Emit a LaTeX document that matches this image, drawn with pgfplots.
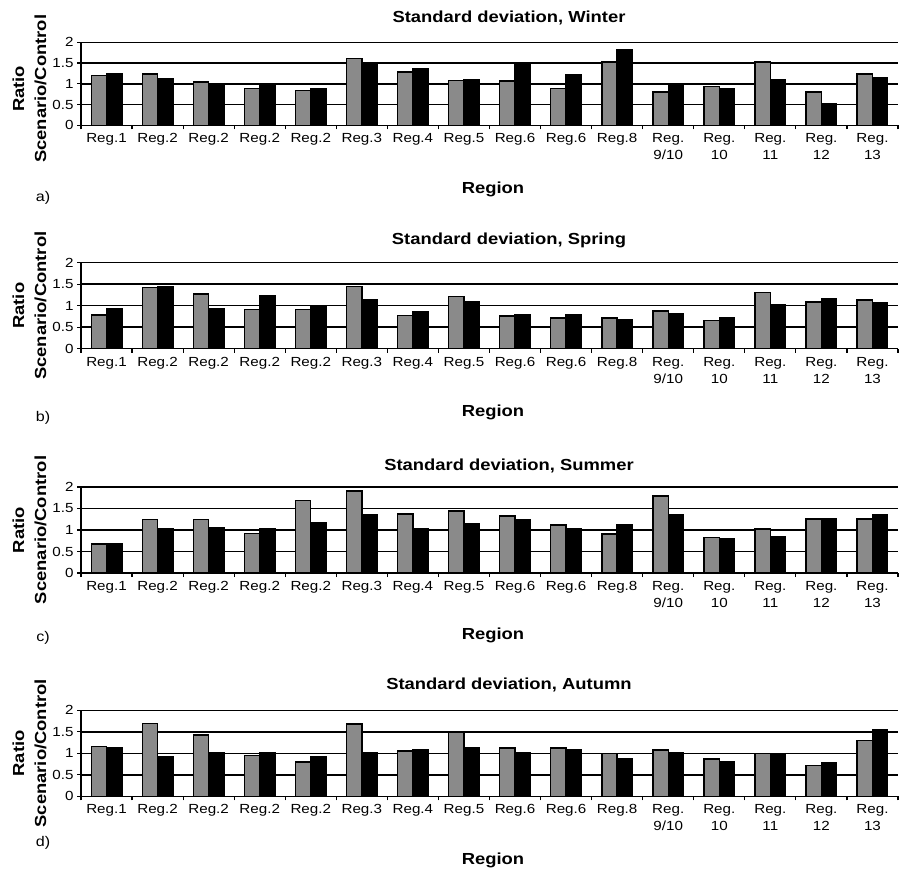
\documentclass[border=0pt]{standalone}
\usepackage{pgfplots}
\pgfplotsset{compat=1.18}
\usepackage{pgfplotstable}
\usepackage{fontspec}
\setmainfont{Liberation Sans}[FakeStretch=1.15]
\definecolor{barGray}{RGB}{138,138,138}

\pgfplotstableread{
x g b
0 1.20 1.25
1 1.24 1.12
2 1.04 1.00
3 0.89 1.00
4 0.84 0.89
5 1.61 1.51
6 1.28 1.36
7 1.08 1.11
8 1.07 1.50
9 0.88 1.22
10 1.53 1.81
11 0.80 1.00
12 0.94 0.89
13 1.53 1.11
14 0.80 0.51
15 1.24 1.15
}\winter
\pgfplotstableread{
x g b
0 0.78 0.92
1 1.43 1.45
2 1.27 0.93
3 0.91 1.23
4 0.91 1.01
5 1.44 1.15
6 0.77 0.85
7 1.22 1.10
8 0.76 0.78
9 0.71 0.78
10 0.71 0.67
11 0.88 0.81
12 0.66 0.71
13 1.30 1.02
14 1.09 1.16
15 1.13 1.06
}\spring
\pgfplotstableread{
x g b
0 0.67 0.68
1 1.24 1.02
2 1.24 1.06
3 0.92 1.02
4 1.68 1.18
5 1.91 1.35
6 1.37 1.02
7 1.44 1.14
8 1.33 1.25
9 1.12 1.02
10 0.91 1.13
11 1.79 1.35
12 0.82 0.79
13 1.02 0.85
14 1.26 1.27
15 1.26 1.35
}\summer
\pgfplotstableread{
x g b
0 1.16 1.13
1 1.69 0.91
2 1.43 1.01
3 0.95 1.01
4 0.80 0.91
5 1.68 1.01
6 1.05 1.09
7 1.50 1.13
8 1.12 1.01
9 1.12 1.09
10 1.00 0.88
11 1.08 1.01
12 0.87 0.81
13 1.00 1.00
14 0.71 0.78
15 1.30 1.54
}\autumn

\pgfplotsset{
  panel/.style={
    scale only axis, width=408.5pt, height=43pt,
    anchor=north west,
    xmin=-0.5, xmax=15.5, ymin=0, ymax=2,
    ytick={0,0.5,1,1.5,2}, yticklabels={0,0.5,1,1.5,2},
    ymajorgrids, major grid style={black, line width=0.75pt},
    axis x line*=bottom, axis y line*=left,
    axis line style={black, line width=0.75pt},
    xtick={0,...,15},
    xticklabels={Reg.1,Reg.2,Reg.2,Reg.2,Reg.2,Reg.3,Reg.4,Reg.5,Reg.6,Reg.6,Reg.8,{Reg.\\9/10},{Reg.\\10},{Reg.\\11},{Reg.\\12},{Reg.\\13}},
    major x tick style={draw=none},
    minor xtick={-0.5,0.5,...,15.5},
    minor tick length=2pt, major tick length=2pt,
    tick align=outside,
    tick style={black, line width=0.6pt},
    /pgf/number format/assume math mode=true,
    xticklabel style={font=\fontsize{6.6}{8.5}\selectfont, align=center, inner sep=2pt},
    yticklabel style={font=\fontsize{6.6}{8}\selectfont, inner sep=1.5pt},
    ylabel={Ratio\\Scenario/Control},
    ylabel style={align=center, font=\bfseries\fontsize{8}{11}\selectfont, anchor=center},
    ybar, bar width=0.3,
  },
  grayb/.style={fill=barGray, draw=black, line width=0.7pt, bar shift=-0.15},
  blackb/.style={fill=black, draw=black, line width=0.7pt, bar shift=0.15},
}

\begin{document}
\begin{tikzpicture}
\useasboundingbox (0pt,0pt) rectangle (449.5pt,-435.5pt);
% a) Winter
\begin{axis}[panel, height=41.5pt, at={(40.5pt,-21.15pt)},
  ylabel style={at={(axis description cs:-0.063,0.44)}}]
\addplot[grayb] table[x=x,y=g]{\winter};
\addplot[blackb] table[x=x,y=b]{\winter};
\end{axis}
\node[anchor=base, font=\bfseries\fontsize{8}{10}\selectfont] at (254.5pt,-11.5pt) {Standard deviation, Winter};
\node[anchor=base, font=\bfseries\fontsize{8}{10}\selectfont] at (246.5pt,-96.65pt) {Region};
\node[anchor=center, font=\fontsize{7}{8}\selectfont] at (21.5pt,-99pt) {a)};
% b) Spring
\begin{axis}[panel, at={(40.5pt,-131.35pt)},
  ylabel style={at={(axis description cs:-0.063,0.5)}}]
\addplot[grayb] table[x=x,y=g]{\spring};
\addplot[blackb] table[x=x,y=b]{\spring};
\end{axis}
\node[anchor=base, font=\bfseries\fontsize{8}{10}\selectfont] at (254.5pt,-122.5pt) {Standard deviation, Spring};
\node[anchor=base, font=\bfseries\fontsize{8}{10}\selectfont] at (246.5pt,-208.3pt) {Region};
\node[anchor=center, font=\fontsize{7}{8}\selectfont] at (21.5pt,-208.75pt) {b)};
% c) Summer
\begin{axis}[panel, at={(40.5pt,-243.5pt)},
  ylabel style={at={(axis description cs:-0.063,0.5)}}]
\addplot[grayb] table[x=x,y=g]{\summer};
\addplot[blackb] table[x=x,y=b]{\summer};
\end{axis}
\node[anchor=base, font=\bfseries\fontsize{8}{10}\selectfont] at (254.5pt,-235pt) {Standard deviation, Summer};
\node[anchor=base, font=\bfseries\fontsize{8}{10}\selectfont] at (246.5pt,-319.8pt) {Region};
\node[anchor=center, font=\fontsize{7}{8}\selectfont] at (21.5pt,-319pt) {c)};
% d) Autumn
\begin{axis}[panel, at={(40.5pt,-355.15pt)},
  ylabel style={at={(axis description cs:-0.063,0.5)}}]
\addplot[grayb] table[x=x,y=g]{\autumn};
\addplot[blackb] table[x=x,y=b]{\autumn};
\end{axis}
\node[anchor=base, font=\bfseries\fontsize{8}{10}\selectfont] at (254.5pt,-344.5pt) {Standard deviation, Autumn};
\node[anchor=base, font=\bfseries\fontsize{8}{10}\selectfont] at (246.5pt,-432.3pt) {Region};
\node[anchor=center, font=\fontsize{7}{8}\selectfont] at (21.5pt,-421.5pt) {d)};
\end{tikzpicture}
\end{document}
